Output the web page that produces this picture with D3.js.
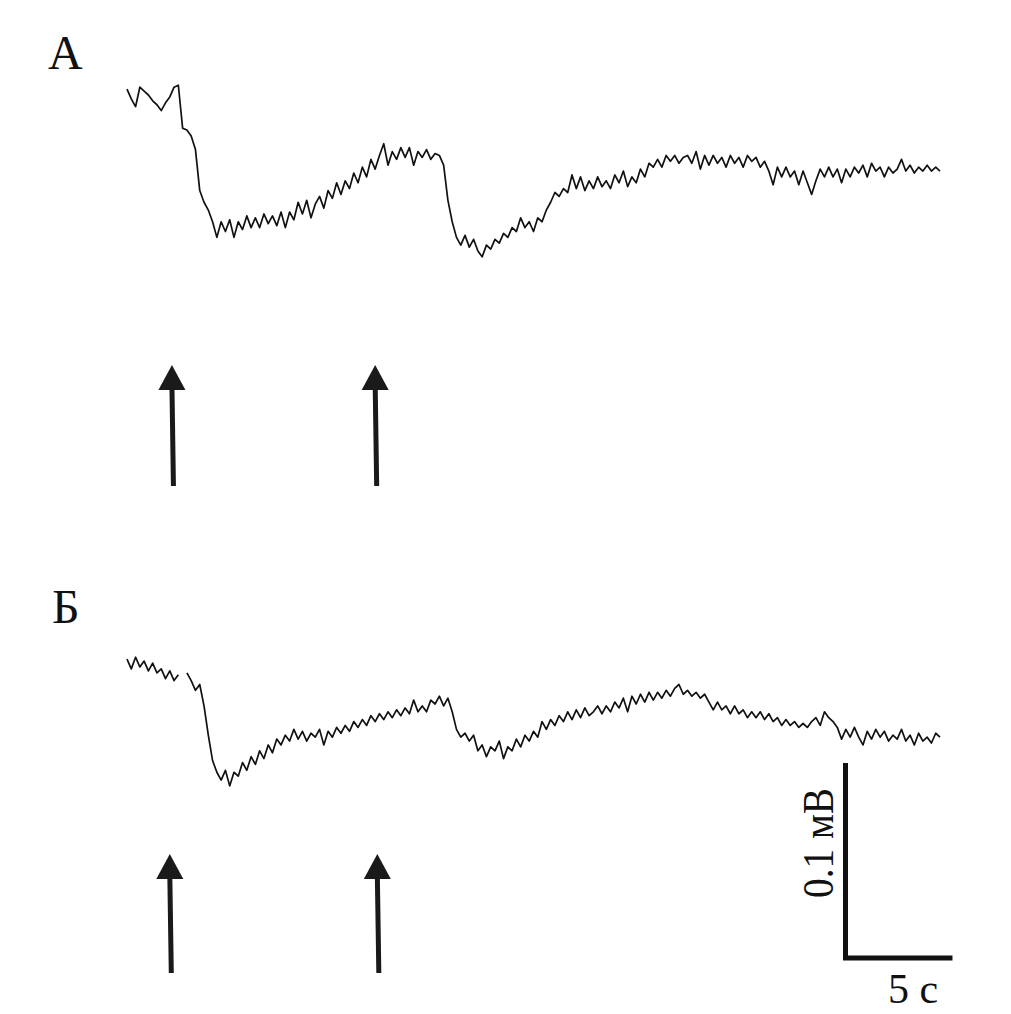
<!DOCTYPE html>
<html>
<head>
<meta charset="utf-8">
<script src="https://cdn.jsdelivr.net/npm/d3@7"></script>
<style>
  html, body { margin: 0; padding: 0; background: #fff; }
  svg { display: block; }
</style>
</head>
<body>
<svg id="chart" width="1011" height="1014"></svg>
<script>
// ---- DATA ----
// sampling interval of both recordings, seconds
const sampleInterval = 0.2;
// panel labels
const panelLabels = ["А", "Б"];
// trace A, potential in µV relative to the initial baseline
const traceA = [
  3, -2, -6, 4, 2, 0, -3, -5, -8, -4, -1, 4, 5,
  -17, -18, -21, -28, -49, -55, -59, -65, -73, -65, -70, -64, -73, -65, -69, -62, -68, -63,
  -68, -61, -66, -62, -67, -60, -68, -60, -64, -55, -61, -54, -63, -56, -52, -58, -49, -53, -45,
  -51, -44, -48, -40, -45, -37, -42, -33, -38, -31, -25, -36, -29, -33, -27, -32, -27, -36, -29,
  -32, -28, -33, -30, -31, -36, -54, -65, -73, -77, -72, -78, -74, -80, -83, -77, -79, -74, -76,
  -71, -73, -68, -70, -63, -68, -65, -70, -63, -65, -59, -55, -50, -52, -48, -50, -41, -48, -42,
  -49, -44, -48, -42, -47, -44, -48, -41, -45, -39, -47, -42, -45, -38, -42, -35, -37, -33, -37,
  -31, -34, -31, -35, -32, -31, -35, -29, -38, -31, -36, -31, -35, -32, -37, -31, -35, -32, -37,
  -31, -34, -32, -37, -34, -39, -46, -37, -42, -37, -42, -39, -46, -39, -45, -51, -44, -38, -42,
  -37, -42, -38, -45, -38, -42, -37, -40, -36, -42, -35, -39, -37, -42, -37, -40, -38, -33, -39,
  -36, -40, -37, -39, -36, -39, -37, -39
];
// trace Б, potential in µV relative to the initial baseline (null = blanked stimulus artefact)
const traceB = [
  3, -2, 4, -1, 2, -3, 1, -4, -2, -7, -3, -8, -5,
  null, -4, -8, -13, -10, -21, -36, -49, -55, -59, -54, -62, -55, -57, -50, -54, -47, -51,
  -44, -48, -41, -45, -38, -41, -36, -39, -33, -38, -34, -39, -35, -37, -33, -41, -34, -37, -32,
  -35, -31, -34, -29, -32, -28, -31, -26, -29, -25, -28, -24, -27, -23, -26, -22, -25, -18, -24,
  -21, -24, -18, -20, -16, -21, -17, -24, -33, -37, -35, -39, -36, -44, -41, -47, -42, -44, -39,
  -48, -42, -44, -38, -42, -36, -39, -34, -37, -29, -33, -28, -31, -26, -29, -24, -28, -23, -27,
  -22, -26, -24, -21, -25, -21, -24, -19, -22, -17, -24, -16, -20, -15, -19, -14, -18, -14, -17,
  -13, -16, -12, -10, -15, -13, -16, -14, -17, -15, -19, -23, -19, -23, -21, -25, -21, -25, -23,
  -27, -24, -27, -24, -28, -25, -29, -27, -31, -28, -31, -29, -32, -30, -32, -29, -27, -31, -24,
  -27, -29, -32, -38, -33, -37, -32, -37, -41, -34, -38, -33, -37, -34, -39, -36, -38, -33, -39,
  -36, -41, -35, -39, -37, -40, -35, -37
];
// stimulus times (s) marked by arrows
const stimTimesA = [2.1, 11.6];
const stimTimesB = [2.0, 11.7];
// calibration bars
const calTime = 5;      // s
const calVolt = 100;    // µV = 0.1 mV
const calTimeLabel = "5 с";
const calVoltLabel = "0.1 мВ";

// ---- SCALES ----
const svg = d3.select("#chart");
const totalTime = (traceA.length - 1) * sampleInterval;
const x = d3.scaleLinear().domain([0, totalTime]).range([127, 940]);
const yA = d3.scaleLinear().domain([0, -100]).range([95, 290]);
const yB = d3.scaleLinear().domain([0, -100]).range([665, 860]);

const font = "'Liberation Serif', 'Times New Roman', serif";

function drawTrace(data, y) {
  const line = d3.line()
    .defined(d => d != null)
    .x((d, i) => x(i * sampleInterval))
    .y(d => y(d));
  svg.append("path")
    .datum(data)
    .attr("d", line)
    .attr("fill", "none")
    .attr("stroke", "#111")
    .attr("stroke-width", 1.7)
    .attr("stroke-linejoin", "round");
}
drawTrace(traceA, yA);
drawTrace(traceB, yB);

// arrows
function drawArrows(times, tipY, baseY) {
  const g = svg.append("g").attr("fill", "#1a1a1a").attr("stroke", "#1a1a1a");
  times.forEach(t => {
    const cx = x(t);
    g.append("line")
      .attr("x1", cx + 1.5).attr("x2", cx)
      .attr("y1", baseY).attr("y2", tipY + 20)
      .attr("stroke-width", 5);
    g.append("path")
      .attr("stroke", "none")
      .attr("d", `M${cx},${tipY} L${cx - 13.5},${tipY + 25} L${cx + 13.5},${tipY + 25} Z`);
  });
}
drawArrows(stimTimesA, 365, 486);
drawArrows(stimTimesB, 854, 973);

// panel labels
svg.append("text").attr("x", 48).attr("y", 69)
  .attr("font-family", font).attr("font-size", 48).attr("fill", "#111")
  .text(panelLabels[0]);
svg.append("text").attr("x", 52).attr("y", 623)
  .attr("font-family", font).attr("font-size", 48).attr("fill", "#111")
  .text(panelLabels[1]);

// calibration bars
const barX = 845.5, barY = 958;
const barH = yB(-calVolt) - yB(0);
const barW = x(calTime) - x(0);
svg.append("path")
  .attr("d", `M${barX},${barY - barH} L${barX},${barY} L${barX + barW},${barY}`)
  .attr("fill", "none")
  .attr("stroke", "#111")
  .attr("stroke-width", 5)
  .attr("stroke-linejoin", "miter");

svg.append("text")
  .attr("transform", `translate(833,843) rotate(-90)`)
  .attr("text-anchor", "middle")
  .attr("font-family", font).attr("font-size", 44).attr("fill", "#111")
  .attr("textLength", 110).attr("lengthAdjust", "spacingAndGlyphs")
  .text(calVoltLabel);

svg.append("text")
  .attr("x", 888).attr("y", 1003)
  .attr("font-family", font).attr("font-size", 42).attr("fill", "#111")
  .text(calTimeLabel);
</script>
</body>
</html>
